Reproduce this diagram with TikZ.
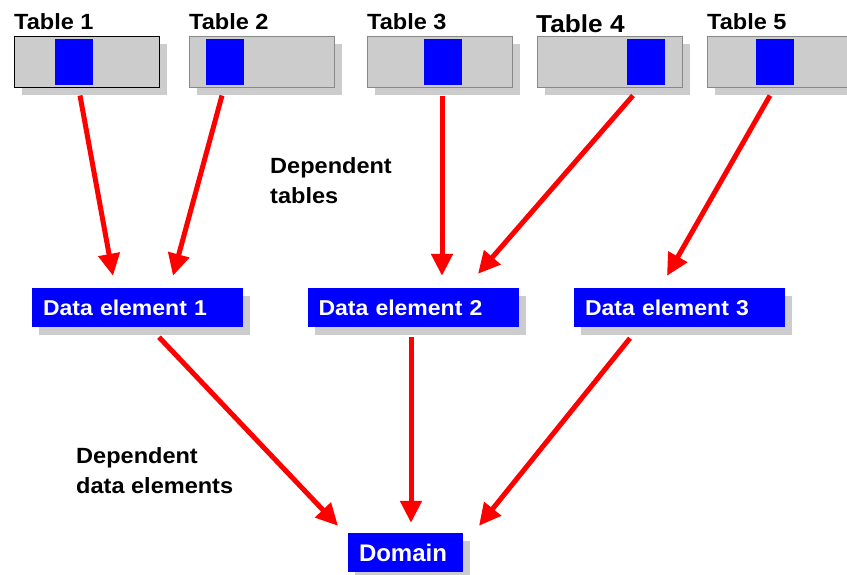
\documentclass[tikz,border=0pt]{standalone}
\usepackage{fontspec}
\setmainfont{Liberation Sans}
\newfontfamily\labfont[FakeStretch=1.07]{Liberation Sans}
\usetikzlibrary{arrows.meta,calc,shadows}
\definecolor{boxgray}{HTML}{CCCCCC}
\definecolor{edgegray}{HTML}{888888}
\definecolor{elemblue}{HTML}{0000FF}
\definecolor{arrowred}{HTML}{FF0000}
\begin{document}
\begin{tikzpicture}[x=1pt,y=-1pt,
  tablebox/.style={rectangle, fill=boxgray, draw=edgegray, line width=1pt,
    minimum width=145pt, minimum height=51pt, inner sep=0pt,
    drop shadow={shadow xshift=8pt, shadow yshift=-8pt, fill=boxgray, opacity=1}},
  fieldbox/.style={rectangle, fill=elemblue, minimum width=38pt, minimum height=46pt, inner sep=0pt},
  elembox/.style={rectangle, fill=elemblue, text=white, minimum height=39pt,
    text width=189pt, inner xsep=11pt, inner ysep=0pt, align=left,
    font=\labfont\bfseries\fontsize{21.5}{24}\selectfont,
    drop shadow={shadow xshift=7pt, shadow yshift=-8pt, fill=boxgray, opacity=1}},
  tablelabel/.style={anchor=base west, inner sep=0pt, font=\labfont\bfseries\fontsize{22}{26}\selectfont},
  note/.style={anchor=north west, inner sep=0pt, align=left, font=\labfont\bfseries\fontsize{22}{30}\selectfont},
  flow/.style={draw=arrowred, line width=5pt, -{Triangle[length=22pt,width=21pt]}}
]
\useasboundingbox (0,0) rectangle (847,574);

% tables
\node[tablebox, draw=black] (t1) at (86.5,61.5) {};
\node[tablebox] (t2) at (261.5,61.5) {};
\node[tablebox] (t3) at (439.5,61.5) {};
\node[tablebox] (t4) at (609.5,61.5) {};
\node[tablebox] (t5) at (779.5,61.5) {};
\node[fieldbox] (f1) at (74,62) {};
\node[fieldbox] (f2) at (225,62) {};
\node[fieldbox] (f3) at (443,62) {};
\node[fieldbox] (f4) at (645.5,62) {};
\node[fieldbox] (f5) at (774.5,62) {};

\node[tablelabel] (l1) at (14,29) {Table 1};
\node[tablelabel] (l2) at (189,29) {Table 2};
\node[tablelabel] (l3) at (367,29) {Table 3};
\node[tablelabel, font=\labfont\bfseries\fontsize{24.5}{28}\selectfont] (l4) at (536,32) {Table 4};
\node[tablelabel] (l5) at (707,29) {Table 5};

% data elements
\node[elembox] (de1) at (137.5,307.5) {Data element 1};
\node[elembox] (de2) at (413,307.5) {Data element 2};
\node[elembox] (de3) at (679.5,307.5) {Data element 3};

% domain
\node[elembox, text width=93pt, font=\bfseries\fontsize{24}{28}\selectfont] (dom) at (405.5,552.5) {Domain};

% notes
\node[note] (n1) at (270,157) {Dependent\\tables};
\node[note] (n2) at (76,447) {Dependent\\data elements};

% connector end points
\coordinate (s1) at ($(t1.south)+(-6.5,8)$);
\coordinate (s2) at ($(t2.south)+(-39.5,8)$);
\coordinate (s3) at ($(t3.south)+(2.5,8)$);
\coordinate (s4) at ($(t4.south)+(23.5,8)$);
\coordinate (s5) at ($(t5.south)+(-9.5,8)$);
\coordinate (e1) at ($(de1.north)+(-24.5,-12)$);
\coordinate (e2) at ($(de1.north)+(35.5,-12)$);
\coordinate (e3) at ($(de2.north)+(29,-12)$);
\coordinate (e4) at ($(de2.north)+(65,-14)$);
\coordinate (e5) at ($(de3.north)+(-12.5,-12)$);
\coordinate (d1) at ($(de1.south)+(21.5,10)$);
\coordinate (d2) at ($(de2.south)+(-2,10)$);
\coordinate (d3) at ($(de3.south)+(-49.5,11)$);
\coordinate (g1) at ($(dom.north)+(-67.5,-7)$);
\coordinate (g2) at ($(dom.north)+(5.5,-10)$);
\coordinate (g3) at ($(dom.north)+(73.5,-7)$);

\draw[flow] (s1) -- (e1);
\draw[flow] (s2) -- (e2);
\draw[flow] (s3) -- (e3);
\draw[flow] (s4) -- (e4);
\draw[flow] (s5) -- (e5);
\draw[flow] (d1) -- (g1);
\draw[flow] (d2) -- (g2);
\draw[flow] (d3) -- (g3);
\end{tikzpicture}
\end{document}
